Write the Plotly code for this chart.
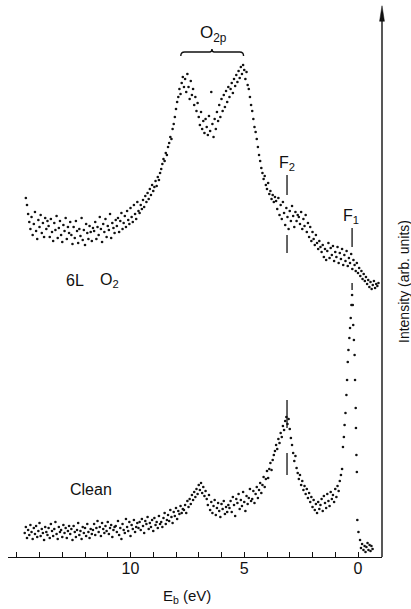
import numpy as np
import plotly.graph_objects as go

# ---- 6 L O2 exposure: binding energy grid 14.60 -> -0.90 eV in 0.05 eV steps ----
o2_energy = np.arange(1460, -95, -5) / 100.0
o2_counts = [
    359, 352, 343, 335, 328, 340, 322, 333, 345, 326, 318, 337, 330, 342, 324, 334, 320, 339, 328, 336,
    331, 320, 338, 325, 316, 334, 327, 341, 319, 329, 336, 322, 315, 332, 326, 339, 318, 330, 324, 335,
    322, 313, 330, 319, 336, 326, 314, 328, 321, 339, 317, 327, 312, 333, 324, 318, 331, 325, 316, 329,
    326, 335, 318, 330, 322, 340, 328, 315, 333, 325, 338, 320, 331, 327, 343, 319, 334, 329, 324, 337,
    331, 339, 325, 336, 344, 328, 334, 341, 330, 346, 337, 333, 349, 340, 335, 352, 343, 338, 355, 346,
    344, 352, 348, 357, 350, 361, 355, 364, 358, 368, 362, 372, 366, 370, 376, 371, 380, 377, 384, 388,
    393, 398, 396, 404, 402, 410, 414, 420, 418, 428, 433, 440, 448, 455, 460, 468, 463, 474, 480, 470,
    478, 465, 483, 470, 458, 476, 462, 468, 452, 460, 446, 454, 440, 432, 445, 428, 436, 424, 438, 430,
    422, 441, 426, 465, 433, 420, 438, 428, 445, 436, 452, 440, 458, 446, 462, 450, 466, 455, 470, 460,
    468, 474, 464, 478, 471, 482, 475, 486, 479, 490, 483, 492, 487, 478, 485, 472, 468, 460, 452, 446,
    438, 430, 425, 418, 410, 402, 396, 389, 384, 378, 381, 372, 368, 374, 363, 366, 358, 362, 355, 360,
    356, 348, 359, 342, 352, 338, 355, 344, 332, 349, 340, 328, 346, 336, 351, 341, 330, 345, 336, 342,
    340, 333, 345, 328, 338, 331, 342, 325, 334, 320, 330, 316, 325, 318, 312, 322, 314, 308, 316, 310,
    305, 312, 300, 308, 297, 306, 314, 299, 309, 302, 311, 296, 305, 300, 310, 294, 304, 298, 308, 292,
    302, 296, 306, 291, 299, 294, 303, 288, 297, 292, 286, 294, 284, 289, 281, 286, 278, 283, 276, 280,
    273, 277, 270, 275, 268, 272, 276, 269, 273, 271, 274,
]

# ---- clean surface: 14.65 -> 0.70 eV in 0.05 eV steps ----
clean_energy = np.arange(1465, 65, -5) / 100.0
clean_counts = [
    24, 30, 19, 27, 22, 32, 25, 18, 29, 23, 31, 20, 26, 34, 21, 28, 24, 17, 30, 25,
    22, 29, 19, 33, 26, 21, 28, 35, 23, 18, 30, 25, 27, 20, 32, 24, 29, 19, 26, 31,
    23, 28, 17, 31, 25, 20, 27, 34, 22, 26, 18, 30, 24, 29, 21, 33, 25, 19, 28, 23,
    27, 33, 22, 29, 36, 25, 30, 21, 34, 28, 24, 31, 26, 35, 23, 29, 32, 20, 27, 30,
    31, 25, 36, 22, 29, 18, 33, 27, 24, 38, 30, 26, 35, 21, 32, 28, 37, 25, 30, 34,
    29, 35, 27, 38, 31, 24, 36, 33, 40, 28, 34, 30, 37, 26, 39, 32, 35, 29, 41, 33,
    35, 30, 39, 44, 33, 37, 42, 36, 47, 40, 34, 45, 41, 49, 38, 46, 43, 51, 44, 48,
    47, 52, 44, 56, 50, 58, 53, 62, 57, 65, 60, 68, 63, 72, 67, 74, 64, 70, 61, 66,
    58, 52, 62, 47, 55, 44, 51, 57, 42, 49, 54, 46, 40, 53, 48, 56, 43, 50, 45, 52,
    49, 56, 45, 60, 52, 41, 58, 54, 63, 48, 57, 51, 65, 55, 46, 61, 53, 59, 68, 56,
    58, 66, 54, 63, 70, 59, 67, 74, 64, 72, 80, 70, 78, 86, 79, 88, 94, 87, 97, 102,
    106, 112, 108, 118, 114, 124, 120, 131, 127, 136, 140, 133, 138, 128, 119, 112, 104, 96, 101, 89,
    84, 78, 82, 72, 76, 67, 71, 63, 68, 59, 64, 55, 60, 50, 57, 47, 53, 44, 55, 48,
    52, 58, 46, 61, 54, 49, 63, 56, 51, 65, 58, 62, 55, 68, 60, 71, 66, 76, 82, 88,
]

# clean surface, Fermi-edge region (finer sampling)
clean_edge_energy = [0.66, 0.62, 0.59, 0.55, 0.51, 0.48, 0.45, 0.42, 0.38, 0.35,
                     0.32, 0.29, 0.26, 0.23, 0.21, 0.18, 0.15, 0.13, 0.10, 0.09,
                     0.07, 0.05, 0.03, -0.02, -0.09, -0.13, -0.18, -0.24, -0.29, -0.33,
                     -0.37, -0.42, -0.46, -0.51, -0.55, -0.59, -0.64]
clean_edge_counts = [110, 120, 132, 144, 162, 177, 195, 207, 219, 229,
                     239, 252, 262, 252, 232, 217, 202, 177, 149, 129,
                     102, 85, 37, 25, 17, 9, 13, 7, 11, 5,
                     10, 14, 7, 12, 6, 11, 8]

major_ticks = [0, 5, 10]
major_labels = ["0", "5", "10"]
minor_ticks = [1, 2, 3, 4, 6, 7, 8, 9, 11, 12, 13, 14, 15]

FONT = "Liberation Sans"
INK = "#111111"

fig = go.Figure()
fig.add_trace(go.Scatter(x=o2_energy, y=o2_counts, mode="markers",
                         marker=dict(size=2.6, color=INK), hoverinfo="skip"))
fig.add_trace(go.Scatter(x=list(clean_energy) + clean_edge_energy,
                         y=clean_counts + clean_edge_counts, mode="markers",
                         marker=dict(size=2.6, color=INK), hoverinfo="skip"))

shapes = []
# feature markers F1 / F2 (short vertical strokes)
for e, y0, y1 in [(3.12, 362, 382), (3.12, 304, 322), (0.26, 310, 329), (0.26, 267, 274),
                  (3.12, 129, 157), (3.12, 82, 104)]:
    shapes.append(dict(type="line", xref="x", yref="y", x0=e, x1=e, y0=y0, y1=y1,
                       line=dict(color=INK, width=1.3)))
# brace over the O 2p band
shapes.append(dict(type="path", xref="x", yref="y",
                   path="M 7.79,501 Q 7.79,505 7.62,505 L 6.52,505 Q 6.42,505 6.42,508 "
                        "Q 6.42,505 6.32,505 L 5.20,505 Q 5.03,505 5.03,501",
                   line=dict(color=INK, width=1.4)))
# intensity axis with arrow head
shapes.append(dict(type="line", xref="paper", yref="paper", x0=1, x1=1, y0=0, y1=0.972,
                   line=dict(color=INK, width=1.4)))
shapes.append(dict(type="path", xref="paper", yref="paper",
                   path="M 1,0.995 L 0.9935,0.967 L 1.0065,0.967 Z",
                   fillcolor=INK, line=dict(color=INK, width=0.5)))

def label(text, x, y, size, xanchor="center", xref="x", yref="y", angle=0):
    return dict(text=text, x=x, y=y, xref=xref, yref=yref, showarrow=False,
                xanchor=xanchor, yanchor="middle", textangle=angle,
                font=dict(family=FONT, size=size, color=INK))

annotations = [
    label("O<sub>2p</sub>", 6.37, 523, 17),
    label("F<sub>2</sub>", 3.12, 394, 16),
    label("F<sub>1</sub>", 0.30, 341, 16),
    label("6L", 12.46, 277, 16),
    label("O<sub>2</sub>", 11.43, 277, 16, xanchor="left"),
    label("Clean", 11.74, 68, 16),
    label("E<sub>b</sub> (eV)", 7.52, -0.072, 15, yref="paper"),
    label("Intensity (arb. units)", 1 + (404 - 382) / 374.0, (557 - 282) / 554.0, 14,
          xref="paper", yref="paper", angle=-90),
]

fig.update_layout(
    width=411, height=609,
    margin=dict(l=8, r=29, t=3, b=52, pad=0),
    paper_bgcolor="white", plot_bgcolor="white",
    showlegend=False,
    font=dict(family=FONT, color=INK),
    shapes=shapes, annotations=annotations,
    xaxis=dict(range=[15.385, -1.055], showgrid=False, zeroline=False,
               showline=True, linecolor=INK, linewidth=1.4,
               ticks="inside", ticklen=5, tickwidth=1.2, tickcolor=INK,
               tickvals=major_ticks, ticktext=major_labels, ticklabelstandoff=-3,
               tickfont=dict(family=FONT, size=16, color=INK),
               minor=dict(tickvals=minor_ticks, ticks="inside", ticklen=5,
                          tickwidth=1.2, tickcolor=INK, showgrid=False)),
    yaxis=dict(range=[0, 554], showgrid=False, zeroline=False, showline=False,
               showticklabels=False, ticks=""),
)

fig.write_html("out.html")
